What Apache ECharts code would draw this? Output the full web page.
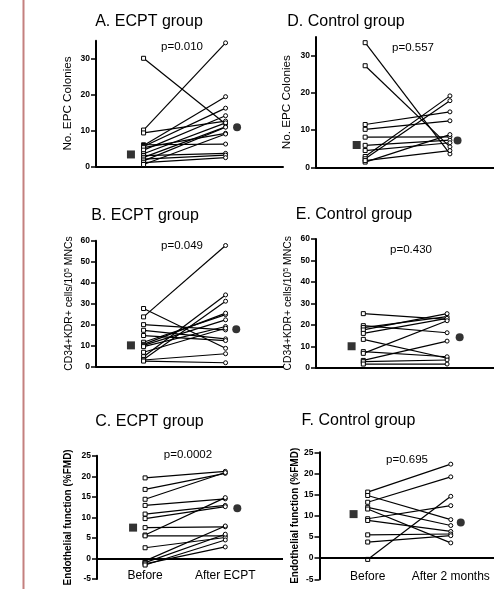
<!DOCTYPE html>
<html>
<head>
<meta charset="utf-8">
<script src="https://cdn.jsdelivr.net/npm/echarts@6/dist/echarts.min.js"></script>
<style>
  html, body { margin: 0; padding: 0; background: #fff; }
  #chart { width: 494px; height: 589px; }
</style>
</head>
<body>
<div id="chart"></div>
<script>
const FONT = "'Liberation Sans', Arial, sans-serif";

// A. EPC colonies, ECPT group (before / after pairs)
const epcEcptBefore = [30.1, 10.1, 9.3, 6.0, 5.8, 5.5, 5.2, 4.5, 3.5, 3.0, 2.5, 2.0, 1.5, 1.0, 0.5];
const epcEcptAfter  = [11.8, 34.4, 12.6, 6.2, 19.4, 16.2, 9.2, 14.1, 12.1, 3.6, 11.0, 3.1, 10.9, 2.4, 9.0];
const epcEcptMeans  = [3.3, 10.9];

// B. CD34+KDR+ cells, ECPT group
const cd34EcptBefore = [27.6, 23.6, 19.9, 17.2, 14.7, 11.5, 10.5, 10.0, 9.4, 6.7, 4.6, 3.3, 3.0, 2.5];
const cd34EcptAfter  = [8.6, 57.7, 17.4, 13.1, 12.3, 24.7, 25.4, 22.2, 19.0, 18.2, 34.1, 31.1, 6.0, 1.7];
const cd34EcptMeans  = [10.0, 17.7];

// C. endothelial function, ECPT group
const fmdEcptBefore = [19.6, 16.8, 14.4, 12.9, 10.8, 9.7, 7.5, 5.7, 5.5, 2.6, -0.6, -1.0, -1.3, -1.6];
const fmdEcptAfter  = [21.2, 20.7, 20.9, 14.5, 12.9, 12.6, 7.7, 14.8, 5.5, 5.1, 7.9, 5.9, 2.8, 4.5];
const fmdEcptMeans  = [7.5, 12.2];

// D. EPC colonies, control group
const epcCtrlBefore = [33.5, 27.3, 11.5, 10.2, 8.1, 5.9, 4.5, 2.9, 2.3, 1.4, 1.8];
const epcCtrlAfter  = [3.6, 5.5, 14.9, 12.5, 8.2, 7.3, 6.6, 19.2, 17.9, 8.8, 4.5];
const epcCtrlMeans  = [6.0, 7.2];

// E. CD34+KDR+ cells, control group
const cd34CtrlBefore = [25.2, 19.6, 18.7, 17.6, 16.0, 13.2, 7.5, 6.7, 3.4, 2.8, 1.7];
const cd34CtrlAfter  = [22.5, 16.3, 23.8, 25.2, 23.0, 4.4, 5.1, 21.9, 12.4, 3.6, 1.7];
const cd34CtrlMeans  = [10.0, 14.2];

// F. endothelial function, control group
const fmdCtrlBefore = [15.6, 13.2, 14.8, 12.0, 11.6, 9.3, 8.9, 5.5, 3.8, -0.3];
const fmdCtrlAfter  = [22.2, 19.2, 9.1, 7.7, 3.6, 12.4, 6.3, 5.7, 5.3, 14.6];
const fmdCtrlMeans  = [10.4, 8.4];

const epcTicks  = [0, 10, 20, 30];
const cd34Ticks = [0, 10, 20, 30, 40, 50, 60];
const fmdTicks  = [-5, 0, 5, 10, 15, 20, 25];

const ecptTimeLabels = ["Before", "After ECPT"];
const ctrlTimeLabels = ["Before", "After 2 months"];

const titles  = ["A. ECPT group", "B. ECPT group", "C. ECPT group",
                 "D. Control group", "E. Control group", "F. Control group"];
const pValues = ["p=0.010", "p=0.049", "p=0.0002", "p=0.557", "p=0.430", "p=0.695"];

const epcName  = "No. EPC Colonies";
const cd34Name = "CD34+KDR+ cells/10{sup|5} MNCs";
const fmdName  = "Endothelial function (%FMD)";

const panels = [
  { before: epcEcptBefore, after: epcEcptAfter, means: epcEcptMeans, ticks: epcTicks, yMin: 0, yMax: 35,
    name: epcName, kind: "epc", labels: null,
    grid: { left: 96, top: 40.7, width: 187, height: 125.6 }, xRange: [0.42, 2.70], meanX: [0.846, 2.14],
    nameGap: 22, titlePos: [149, 22], pPos: [182, 47] },
  { before: cd34EcptBefore, after: cd34EcptAfter, means: cd34EcptMeans, ticks: cd34Ticks, yMin: 0, yMax: 60,
    name: cd34Name, kind: "cd34", labels: null,
    grid: { left: 96, top: 240.7, width: 187, height: 125.6 }, xRange: [0.42, 2.70], meanX: [0.846, 2.13],
    nameGap: 22, titlePos: [145, 216], pPos: [182, 246] },
  { before: fmdEcptBefore, after: fmdEcptAfter, means: fmdEcptMeans, ticks: fmdTicks, yMin: -5, yMax: 25,
    name: fmdName, kind: "fmd", labels: ecptTimeLabels,
    grid: { left: 97, top: 455.7, width: 186, height: 123.3 }, xRange: [0.40, 2.72], meanX: [0.85, 2.15],
    nameGap: 24, titlePos: [149.5, 422], pPos: [188, 455] },
  { before: epcCtrlBefore, after: epcCtrlAfter, means: epcCtrlMeans, ticks: epcTicks, yMin: 0, yMax: 35,
    name: epcName, kind: "epc", labels: null,
    grid: { left: 316, top: 37.1, width: 178, height: 130.2 }, xRange: [0.42, 2.52], meanX: [0.90, 2.09],
    nameGap: 23, titlePos: [346, 22], pPos: [413, 48] },
  { before: cd34CtrlBefore, after: cd34CtrlAfter, means: cd34CtrlMeans, ticks: cd34Ticks, yMin: 0, yMax: 60,
    name: cd34Name, kind: "cd34", labels: null,
    grid: { left: 316, top: 239, width: 178, height: 128.7 }, xRange: [0.435, 2.56], meanX: [0.86, 2.15],
    nameGap: 23, titlePos: [354, 215], pPos: [411, 250] },
  { before: fmdCtrlBefore, after: fmdCtrlAfter, means: fmdCtrlMeans, ticks: fmdTicks, yMin: -5, yMax: 25,
    name: fmdName, kind: "fmd", labels: ctrlTimeLabels,
    grid: { left: 319.5, top: 452.3, width: 174.5, height: 127 }, xRange: [0.42, 2.52], meanX: [0.83, 2.12],
    nameGap: 17, titlePos: [358.5, 421], pPos: [407, 460] }
];

function nameStyle(kind) {
  if (kind === "fmd") {
    return { fontFamily: FONT, fontSize: 10, fontWeight: "bold", color: "#000" };
  }
  if (kind === "cd34") {
    return { fontFamily: FONT, fontSize: 10.4, color: "#000",
      rich: { sup: { fontFamily: FONT, fontSize: 7, color: "#000", verticalAlign: "top" } } };
  }
  return { fontFamily: FONT, fontSize: 11.7, color: "#000" };
}

const grids = [];
const xAxes = [];
const yAxes = [];
const series = [];
const graphics = [];

panels.forEach((p, i) => {
  grids.push(Object.assign({ containLabel: false }, p.grid));

  const isFmd = p.kind === "fmd";
  xAxes.push({
    type: "value", gridIndex: i, min: p.xRange[0], max: p.xRange[1],
    splitLine: { show: false },
    axisLine: { show: !isFmd, onZero: true, lineStyle: { color: "#000", width: 2 } },
    axisTick: { show: false },
    axisLabel: isFmd ? {
      show: true, customValues: [1, 2], margin: -9,
      formatter: v => (v === 1 ? p.labels[0] : p.labels[1]),
      fontFamily: FONT, fontSize: 12, color: "#000"
    } : { show: false }
  });

  yAxes.push({
    type: "value", gridIndex: i, min: p.yMin, max: p.yMax,
    splitLine: { show: false },
    axisLine: { show: true, onZero: false, lineStyle: { color: "#000", width: 2 } },
    axisTick: { show: true, length: 5, customValues: p.ticks, lineStyle: { color: "#000", width: 1.5 } },
    axisLabel: { customValues: p.ticks, margin: 6, fontFamily: FONT, fontSize: 8.5,
      fontWeight: "bold", color: "#000" },
    name: p.name, nameLocation: "middle", nameGap: p.nameGap, nameTextStyle: nameStyle(p.kind)
  });

  p.before.forEach((b, j) => {
    series.push({
      type: "line", xAxisIndex: i, yAxisIndex: i, animation: false, silent: true,
      symbolSize: 4, showSymbol: true,
      lineStyle: { color: "#000", width: 1.2 },
      itemStyle: { color: "#fff", borderColor: "#000", borderWidth: 1 },
      data: [
        { value: [1, b], symbol: "rect" },
        { value: [2, p.after[j]], symbol: "circle" }
      ],
      z: 3
    });
  });

  const meanSeries = {
    type: "scatter", xAxisIndex: i, yAxisIndex: i, animation: false, silent: true,
    symbolSize: 8, itemStyle: { color: "#000" },
    data: [
      { value: [p.meanX[0], p.means[0]], symbol: "rect" },
      { value: [p.meanX[1], p.means[1]], symbol: "circle" }
    ],
    z: 4
  };
  if (isFmd) {
    meanSeries.markLine = {
      silent: true, symbol: ["none", "none"], animation: false,
      label: { show: false },
      lineStyle: { color: "#000", width: 2, type: "solid" },
      data: [{ yAxis: 0 }]
    };
  }
  series.push(meanSeries);

  graphics.push({
    type: "text", x: p.titlePos[0], y: p.titlePos[1],
    style: { text: titles[i], font: "16px " + FONT, fill: "#000",
      textAlign: "center", textVerticalAlign: "middle" }
  });
  graphics.push({
    type: "text", x: p.pPos[0], y: p.pPos[1],
    style: { text: pValues[i], font: "11.5px " + FONT, fill: "#000",
      textAlign: "center", textVerticalAlign: "middle" }
  });
});

graphics.push({
  type: "line", shape: { x1: 23.5, y1: 0, x2: 23.5, y2: 589 },
  style: { stroke: "#c4807f", lineWidth: 2 }
});

const chart = echarts.init(document.getElementById("chart"), null, { renderer: "canvas" });
chart.setOption({
  animation: false,
  backgroundColor: "#fff",
  grid: grids,
  xAxis: xAxes,
  yAxis: yAxes,
  series: series,
  graphic: graphics
});
</script>
</body>
</html>
